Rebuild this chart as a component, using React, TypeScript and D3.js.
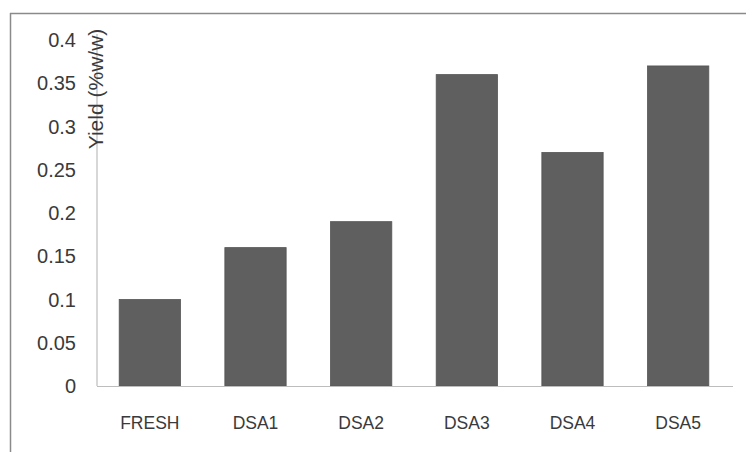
import React from "react";
import * as d3 from "d3";

const categories = ["FRESH", "DSA1", "DSA2", "DSA3", "DSA4", "DSA5"];
const values = [0.1, 0.16, 0.19, 0.36, 0.27, 0.37];
const yTicks = [0, 0.05, 0.1, 0.15, 0.2, 0.25, 0.3, 0.35, 0.4];
const yLabel = "Yield (%w/w)";

export default function App() {
  const W = 746, H = 452;
  const left = 97, right = 731, top = 40, bottom = 386;
  const x = d3.scaleBand().domain(categories).range([left, right]).paddingInner(0.42).paddingOuter(0.21);
  const y = d3.scaleLinear().domain([0, 0.4]).range([bottom, top]);
  const font = "'Liberation Sans', Arial, sans-serif";
  return (
    <svg width={W} height={H} style={{ position: "absolute", left: 0, top: 0, background: "#fff" }}>
      <rect x={0} y={0} width={W} height={H} fill="#fff" />
      <line x1={10.5} y1={13} x2={10.5} y2={H} stroke="#8a8a8a" strokeWidth={1.5} />
      <line x1={10} y1={13.5} x2={W} y2={13.5} stroke="#8a8a8a" strokeWidth={1.5} />
      {categories.map((c, i) => (
        <rect key={c} x={x(c)} y={y(values[i])} width={x.bandwidth()} height={bottom - y(values[i])}
          fill="#5f5f5f" stroke="#555" strokeWidth={0.8} />
      ))}
      <line x1={left} y1={top - 6} x2={left} y2={bottom} stroke="#bdbdbd" strokeWidth={1.2} />
      <line x1={left} y1={bottom + 0.5} x2={right + 2} y2={bottom + 0.5} stroke="#bdbdbd" strokeWidth={1.2} />
      {yTicks.map((t) => (
        <text key={t} x={76} y={y(t)} dy="0.36em" textAnchor="end" fontFamily={font} fontSize={20} fill="#3a3a3a">
          {String(t)}
        </text>
      ))}
      {categories.map((c) => (
        <text key={c} x={(x(c) as number) + x.bandwidth() / 2} y={429} textAnchor="middle" fontFamily={font} fontSize={17.5} fill="#3a3a3a">
          {c}
        </text>
      ))}
      <text transform={`translate(103,${89}) rotate(-90)`} textAnchor="middle" fontFamily={font} fontSize={21} fill="#3a3a3a">
        {yLabel}
      </text>
    </svg>
  );
}
